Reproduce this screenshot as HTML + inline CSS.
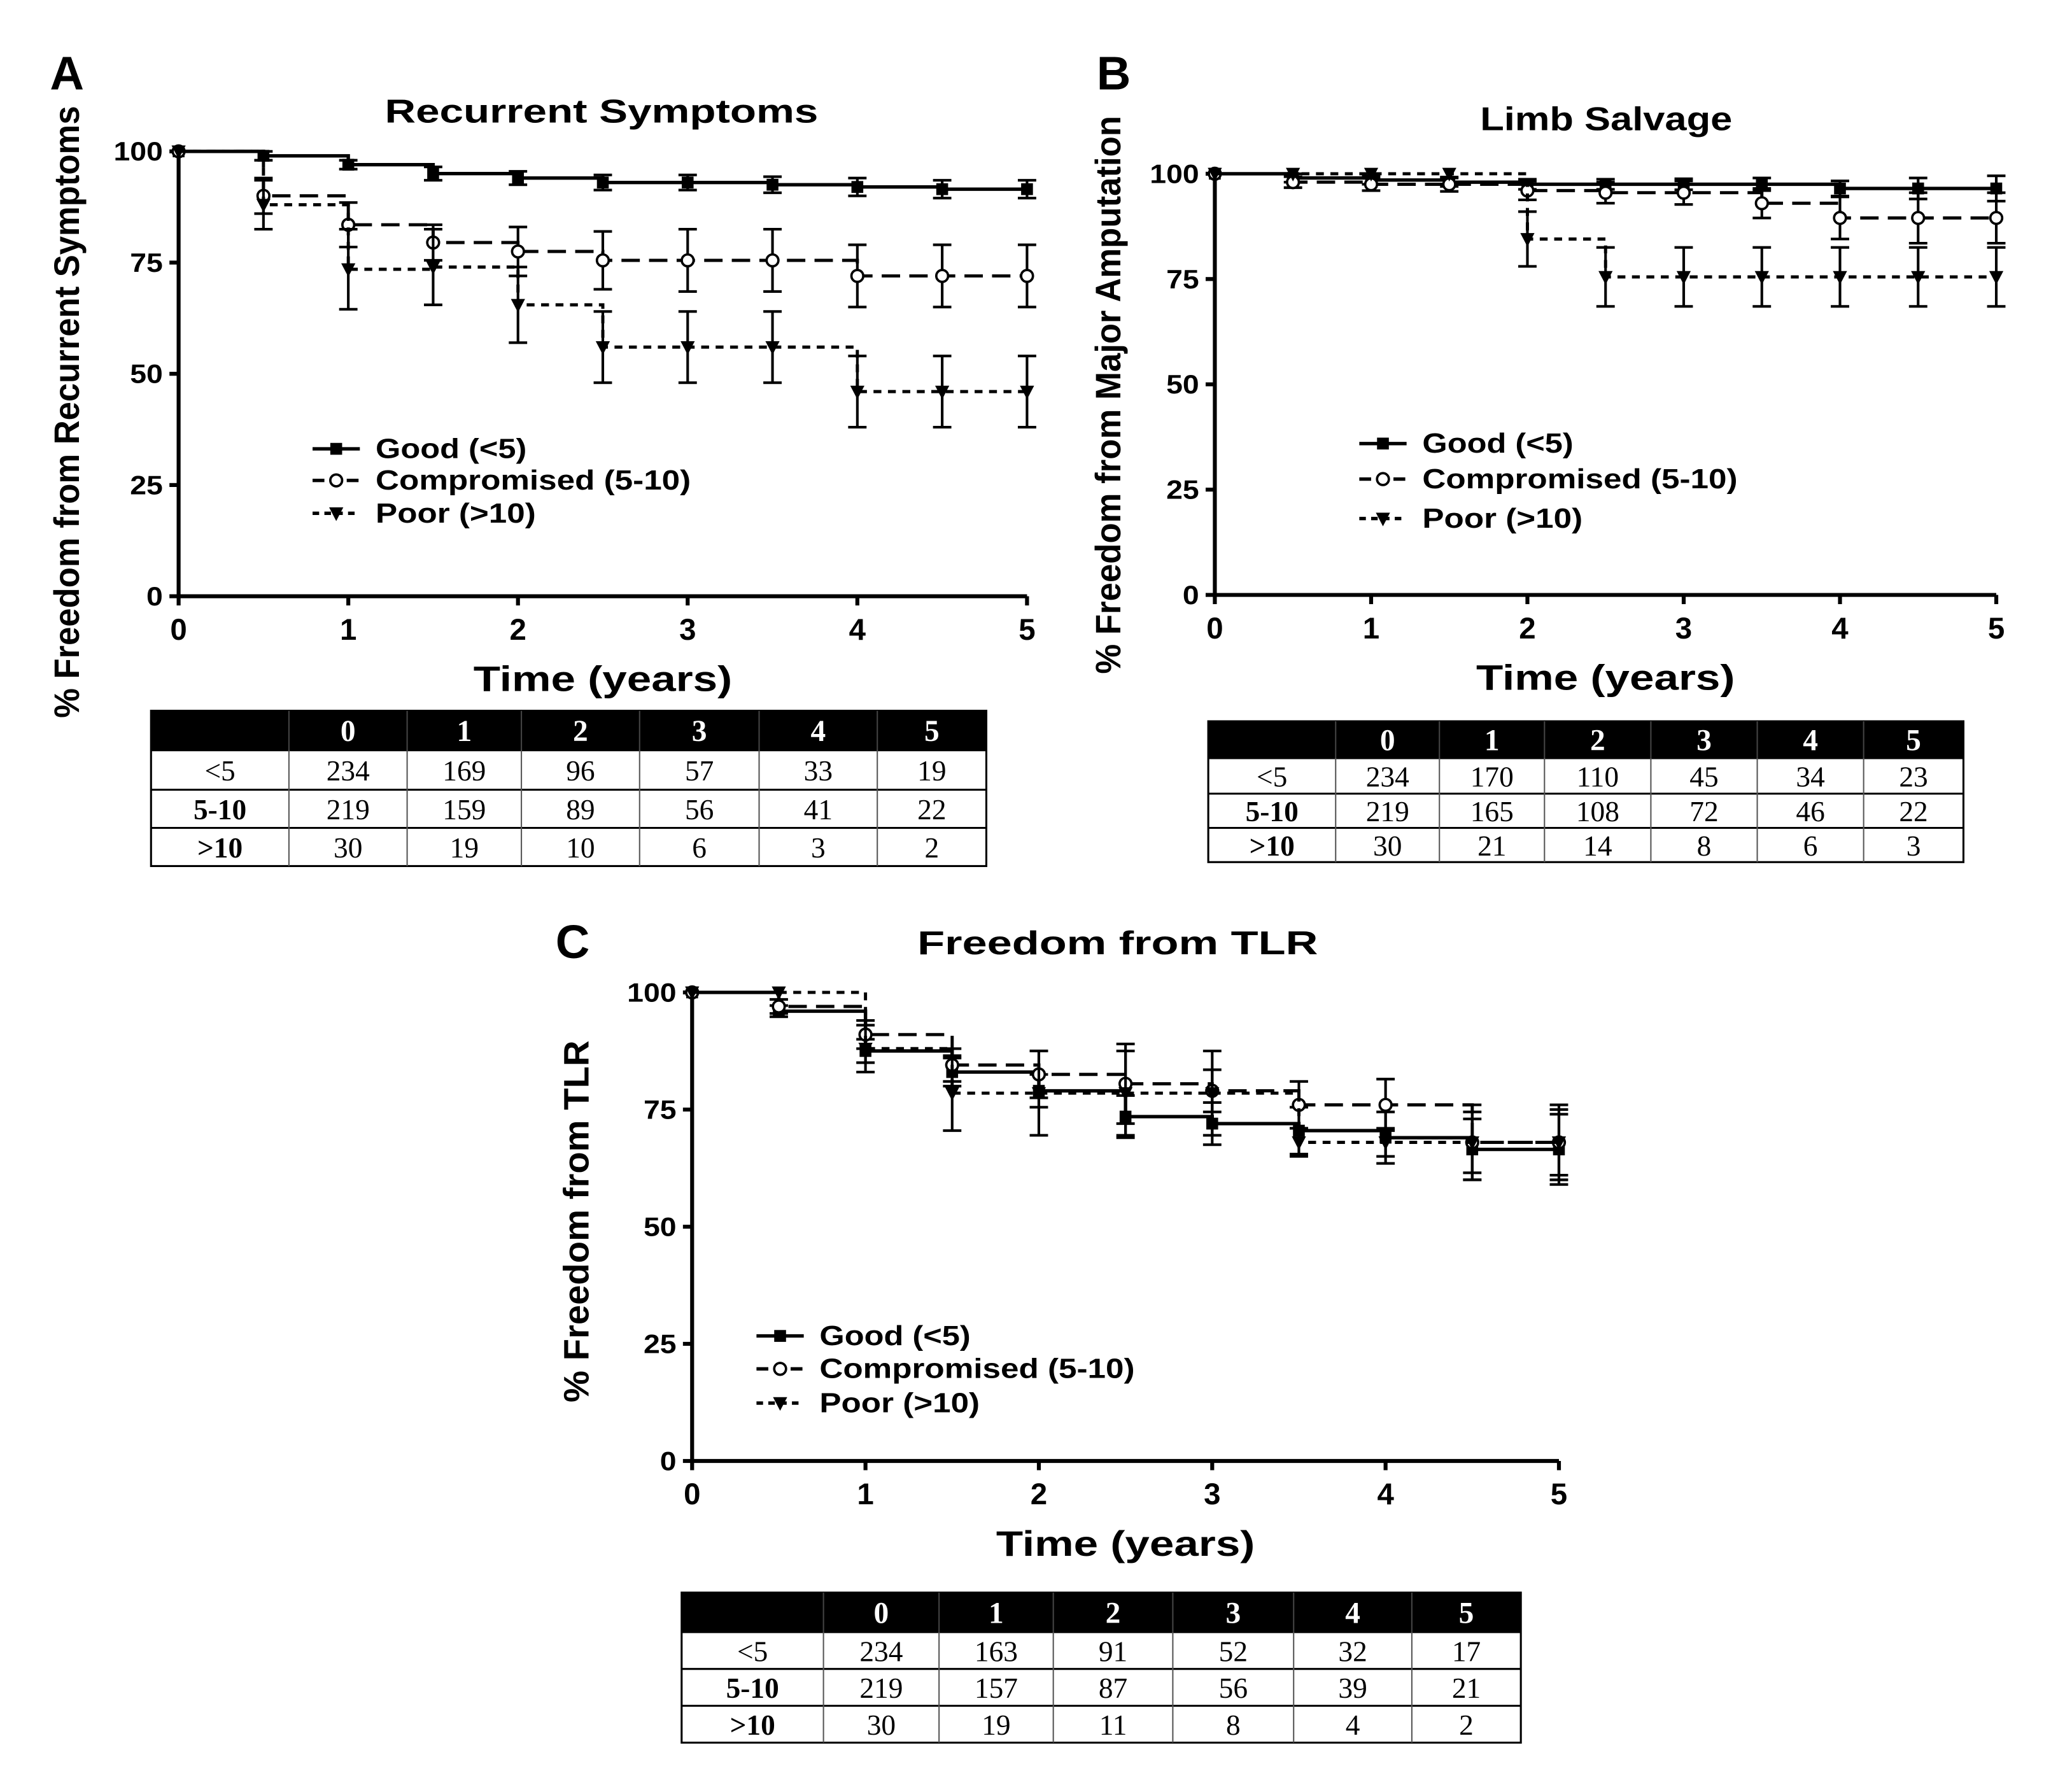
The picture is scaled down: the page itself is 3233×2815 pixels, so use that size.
<!DOCTYPE html>
<html><head><meta charset="utf-8">
<style>
html,body{margin:0;padding:0;background:#fff;}
svg{display:block;}
text{font-family:"Liberation Sans",sans-serif;fill:#000;}
.tbl text{font-family:"Liberation Serif",serif;}
</style></head>
<body>
<svg id="fig" xmlns="http://www.w3.org/2000/svg" width="3233" height="2815" viewBox="0 0 1567 1361.5" preserveAspectRatio="none">
<rect x="0" y="0" width="1567" height="1362" fill="#fff"/>
</svg>
<script>
// ---- shared data ----
const times = [0, 0.5, 1, 1.5, 2, 2.5, 3, 3.5, 4, 4.5, 5];
const yTicks = [0, 25, 50, 75, 100];
const xTicks = [0, 1, 2, 3, 4, 5];
const seriesNames = ["Good (<5)", "Compromised (5-10)", "Poor (>10)"];
const tableCols = ["0", "1", "2", "3", "4", "5"];
const tableRows = ["<5", "5-10", ">10"];

// ---- Panel A: Recurrent Symptoms ----
const aGood = [100, 99, 97, 95, 94, 93, 93, 92.5, 92, 91.5, 91.5];
const aGoodErr = [0, 1, 1, 1.5, 1.5, 1.7, 1.7, 1.8, 2, 2, 2];
const aComp = [100, 90, 83.5, 79.5, 77.5, 75.5, 75.5, 75.5, 72, 72, 72];
const aCompErr = [0, 4, 5, 4, 5.5, 6.5, 7, 7, 7, 7, 7];
const aPoor = [100, 88, 73.5, 74, 65.5, 56, 56, 56, 46, 46, 46];
const aPoorErr = [0, 5.5, 9, 8.5, 8.5, 8, 8, 8, 8, 8, 8];
const aTable = [[234,169,96,57,33,19],[219,159,89,56,41,22],[30,19,10,6,3,2]];

// ---- Panel B: Limb Salvage ----
const bGood = [100, 99, 98.5, 98, 97.5, 97.5, 97.5, 97.5, 96.5, 96.5, 96.5];
const bGoodErr = [0, 1, 1, 1, 1.2, 1.2, 1.3, 1.5, 1.8, 2.5, 3];
const bComp = [100, 98, 97.5, 97.5, 96, 95.5, 95.5, 93, 89.5, 89.5, 89.5];
const bCompErr = [0, 1.3, 1.5, 1.7, 2.2, 2.5, 2.8, 3.5, 5, 6, 6];
const bPoor = [100, 100, 100, 100, 84.5, 75.5, 75.5, 75.5, 75.5, 75.5, 75.5];
const bPoorErr = [0, 0, 0, 0, 6.5, 7, 7, 7, 7, 7, 7];
const bTable = [[234,170,110,45,34,23],[219,165,108,72,46,22],[30,21,14,8,6,3]];

// ---- Panel C: Freedom from TLR ----
const cGood = [100, 96, 87.5, 83, 79, 73.5, 72, 70.5, 69, 66.5, 66.5];
const cGoodErr = [0, 1.2, 2.5, 3, 3.5, 4.5, 4.5, 5, 5.5, 6.5, 7.5];
const cComp = [100, 97, 91, 84.5, 82.5, 80.5, 79, 76, 76, 68, 68];
const cCompErr = [0, 1.5, 3, 3.5, 5, 8.5, 4.5, 5, 5.5, 6.5, 7];
const cPoor = [100, 100, 88, 78.5, 78.5, 78.5, 78.5, 68, 68, 68, 68];
const cPoorErr = [0, 0, 5, 8, 9, 9, 9, 3, 3, 8, 8];
const cTable = [[234,163,91,52,32,17],[219,157,87,56,39,21],[30,19,11,8,4,2]];

const NS = "http://www.w3.org/2000/svg";
const svg = document.getElementById("fig");
function mk(tag, attrs, parent, txt){
  const e = document.createElementNS(NS, tag);
  for (const k in attrs) e.setAttribute(k, attrs[k]);
  if (txt !== undefined) e.textContent = txt;
  (parent || svg).appendChild(e);
  return e;
}
const dashes = ["none", "14 7", "6 5"];

function drawMarker(g, kind, x, y, s){
  let m;
  if (kind === 0) { m = mk("rect", {x:x-s, y:y-s, width:2*s, height:2*s, fill:"#000"}, g); }
  else if (kind === 1) { m = mk("circle", {cx:x, cy:y, r:s, fill:"#fff", stroke:"#000", "stroke-width":1.8}, g); }
  else { m = mk("path", {d:`M${x-s*1.2},${y-s} L${x+s*1.2},${y-s} L${x},${y+s*1.3} Z`, fill:"#000"}, g); }
  return m;
}
const legLen = [115, 240, 122];

function panel(p){
  const g = mk("g", {});
  
  
  const sx = v => p.x0 + (p.x1 - p.x0) * v / 5;
  const sy = v => p.y0 + (p.y1 - p.y0) * v / 100;
  const L = mk("text", {x:p.lx, y:p.ly, "font-size":36, "font-weight":"bold"}, g, p.letter);
  
  
  const T = mk("text", {x:p.tx, y:p.ty, "font-size":25, "font-weight":"bold", "text-anchor":"middle", textLength:p.ttl, lengthAdjust:"spacingAndGlyphs"}, g, p.title);
  
  
  const ax = mk("path", {d:`M${sx(0)},${sy(100)} L${sx(0)},${sy(0)} L${sx(5)},${sy(0)}`, fill:"none", stroke:"#000", "stroke-width":3}, g);
  
  
  yTicks.forEach(v => {
    mk("line", {x1:sx(0)-7, x2:sx(0), y1:sy(v), y2:sy(v), stroke:"#000", "stroke-width":3}, g);
    const t = mk("text", {x:sx(0)-12, y:sy(v)+7, "font-size":20, "font-weight":"bold", "text-anchor":"end", textLength:String(v).length*12.5, lengthAdjust:"spacingAndGlyphs"}, g, String(v));
    
    
  });
  xTicks.forEach(v => {
    mk("line", {x1:sx(v), x2:sx(v), y1:sy(0), y2:sy(0)+7, stroke:"#000", "stroke-width":3}, g);
    const t = mk("text", {x:sx(v), y:sy(0)+33, "font-size":23, "font-weight":"bold", "text-anchor":"middle"}, g, String(v));
    
    
  });
  const xt = mk("text", {x:(sx(0)+sx(5))/2, y:sy(0)+72, "font-size":27, "font-weight":"bold", "text-anchor":"middle", textLength:197, lengthAdjust:"spacingAndGlyphs"}, g, "Time (years)");
  
  
  const yt = mk("text", {x:0, y:0, "font-size":27, "font-weight":"bold", "text-anchor":"middle", textLength:p.ytl, lengthAdjust:"spacingAndGlyphs", transform:`translate(${p.ytx},${p.yty}) rotate(-90)`}, g, p.ytitle);
  
  
  p.series.forEach((s, k) => {
    const sg = mk("g", {}, g);
    
    
    let d = `M${sx(times[0])},${sy(s.v[0])}`;
    for (let i = 1; i < times.length; i++) {
      d += ` L${sx(times[i])},${sy(s.v[i-1])} L${sx(times[i])},${sy(s.v[i])}`;
    }
    mk("path", {d, fill:"none", stroke:"#000", "stroke-width":k===0?2.6:2.4, "stroke-dasharray":dashes[k]}, sg);
    for (let i = 0; i < times.length; i++) {
      const x = sx(times[i]);
      if (s.e[i] > 0) {
        const eb = mk("path", {d:`M${x},${sy(s.v[i]-s.e[i])} L${x},${sy(s.v[i]+s.e[i])} M${x-7},${sy(s.v[i]-s.e[i])} L${x+7},${sy(s.v[i]-s.e[i])} M${x-7},${sy(s.v[i]+s.e[i])} L${x+7},${sy(s.v[i]+s.e[i])}`, stroke:"#000", "stroke-width":2, fill:"none"}, sg);
        
        
      }
      const m = drawMarker(sg, k, x, sy(s.v[i]), 4.5);
      
      
    }
  });
  seriesNames.forEach((n, k) => {
    const lg = mk("g", {}, g);
    
    
    const y = p.legY[k];
    mk("line", {x1:p.legX, x2:p.legX+36, y1:y, y2:y, stroke:"#000", "stroke-width":2.6, "stroke-dasharray":k===0?"none":(k===1?"9 4":"5 4")}, lg);
    drawMarker(lg, k, p.legX+18, y, 4.5);
    mk("text", {x:p.legX+48, y:y+7, "font-size":21, "font-weight":"bold", textLength:legLen[k], lengthAdjust:"spacingAndGlyphs"}, lg, n);
  });
  const tg = mk("g", {class:"tbl"}, g);
  
  
  const c = p.cols, r = p.rows;
  mk("rect", {x:c[0], y:r[0], width:c[c.length-1]-c[0], height:r[1]-r[0], fill:"#000"}, tg);
  mk("rect", {x:c[0], y:r[0], width:c[c.length-1]-c[0], height:r[r.length-1]-r[0], fill:"none", stroke:"#000", "stroke-width":1.5}, tg);
  for (let i = 1; i < r.length-1; i++) mk("line", {x1:c[0], x2:c[c.length-1], y1:r[i], y2:r[i], stroke:"#000", "stroke-width":1.5}, tg);
  for (let j = 1; j < c.length-1; j++) mk("line", {x1:c[j], x2:c[j], y1:r[1], y2:r[r.length-1], stroke:"#555", "stroke-width":1}, tg);
  for (let j = 1; j < c.length-1; j++) mk("line", {x1:c[j], x2:c[j], y1:r[0], y2:r[1], stroke:"#444", "stroke-width":1}, tg);
  tableCols.forEach((h, j) => {
    mk("text", {x:(c[j+1]+c[j+2])/2, y:(r[0]+r[1])/2+8, "font-size":23, "font-weight":"bold", "text-anchor":"middle", style:"fill:#fff"}, tg, h);
  });
  tableRows.forEach((h, i) => {
    const cy = (r[i+1]+r[i+2])/2+8;
    mk("text", {x:(c[0]+c[1])/2, y:cy, "font-size":22, "font-weight":i===0?"normal":"bold", "text-anchor":"middle"}, tg, h);
    p.table[i].forEach((v, j) => {
      mk("text", {x:(c[j+1]+c[j+2])/2, y:cy, "font-size":22, "text-anchor":"middle"}, tg, String(v));
    });
  });
}

panel({id:"a", letter:"A", lx:38, ly:68, title:"Recurrent Symptoms", tx:458, ty:93, ttl:330,
  x0:136, x1:782, y0:453, y1:115, ytitle:"% Freedom from Recurrent Symptoms", ytx:60, yty:313, ytl:465,
  series:[{v:aGood,e:aGoodErr},{v:aComp,e:aCompErr},{v:aPoor,e:aPoorErr}],
  legX:238, legY:[341,365,390], table:aTable,
  cols:[115,220,310,397,487,578,668,751], rows:[540,570,600,629,658]});
panel({id:"b", letter:"B", lx:835, ly:68, title:"Limb Salvage", tx:1223, ty:99, ttl:192,
  x0:925, x1:1520, y0:452, y1:132, ytitle:"% Freedom from Major Amputation", ytx:853, yty:300, ytl:424,
  series:[{v:bGood,e:bGoodErr},{v:bComp,e:bCompErr},{v:bPoor,e:bPoorErr}],
  legX:1035, legY:[337,364,394], table:bTable,
  cols:[920,1017,1096,1176,1257,1338,1419,1495], rows:[548,576,603,629,655]});
panel({id:"c", letter:"C", lx:423, ly:728, title:"Freedom from TLR", tx:851, ty:725, ttl:305,
  x0:527, x1:1187, y0:1110, y1:754, ytitle:"% Freedom from TLR", ytx:448, yty:928, ytl:275,
  series:[{v:cGood,e:cGoodErr},{v:cComp,e:cCompErr},{v:cPoor,e:cPoorErr}],
  legX:576, legY:[1015,1040,1066], table:cTable,
  cols:[519,627,715,802,893,985,1075,1158], rows:[1210,1240,1268,1296,1324]});
</script>
</body></html>
